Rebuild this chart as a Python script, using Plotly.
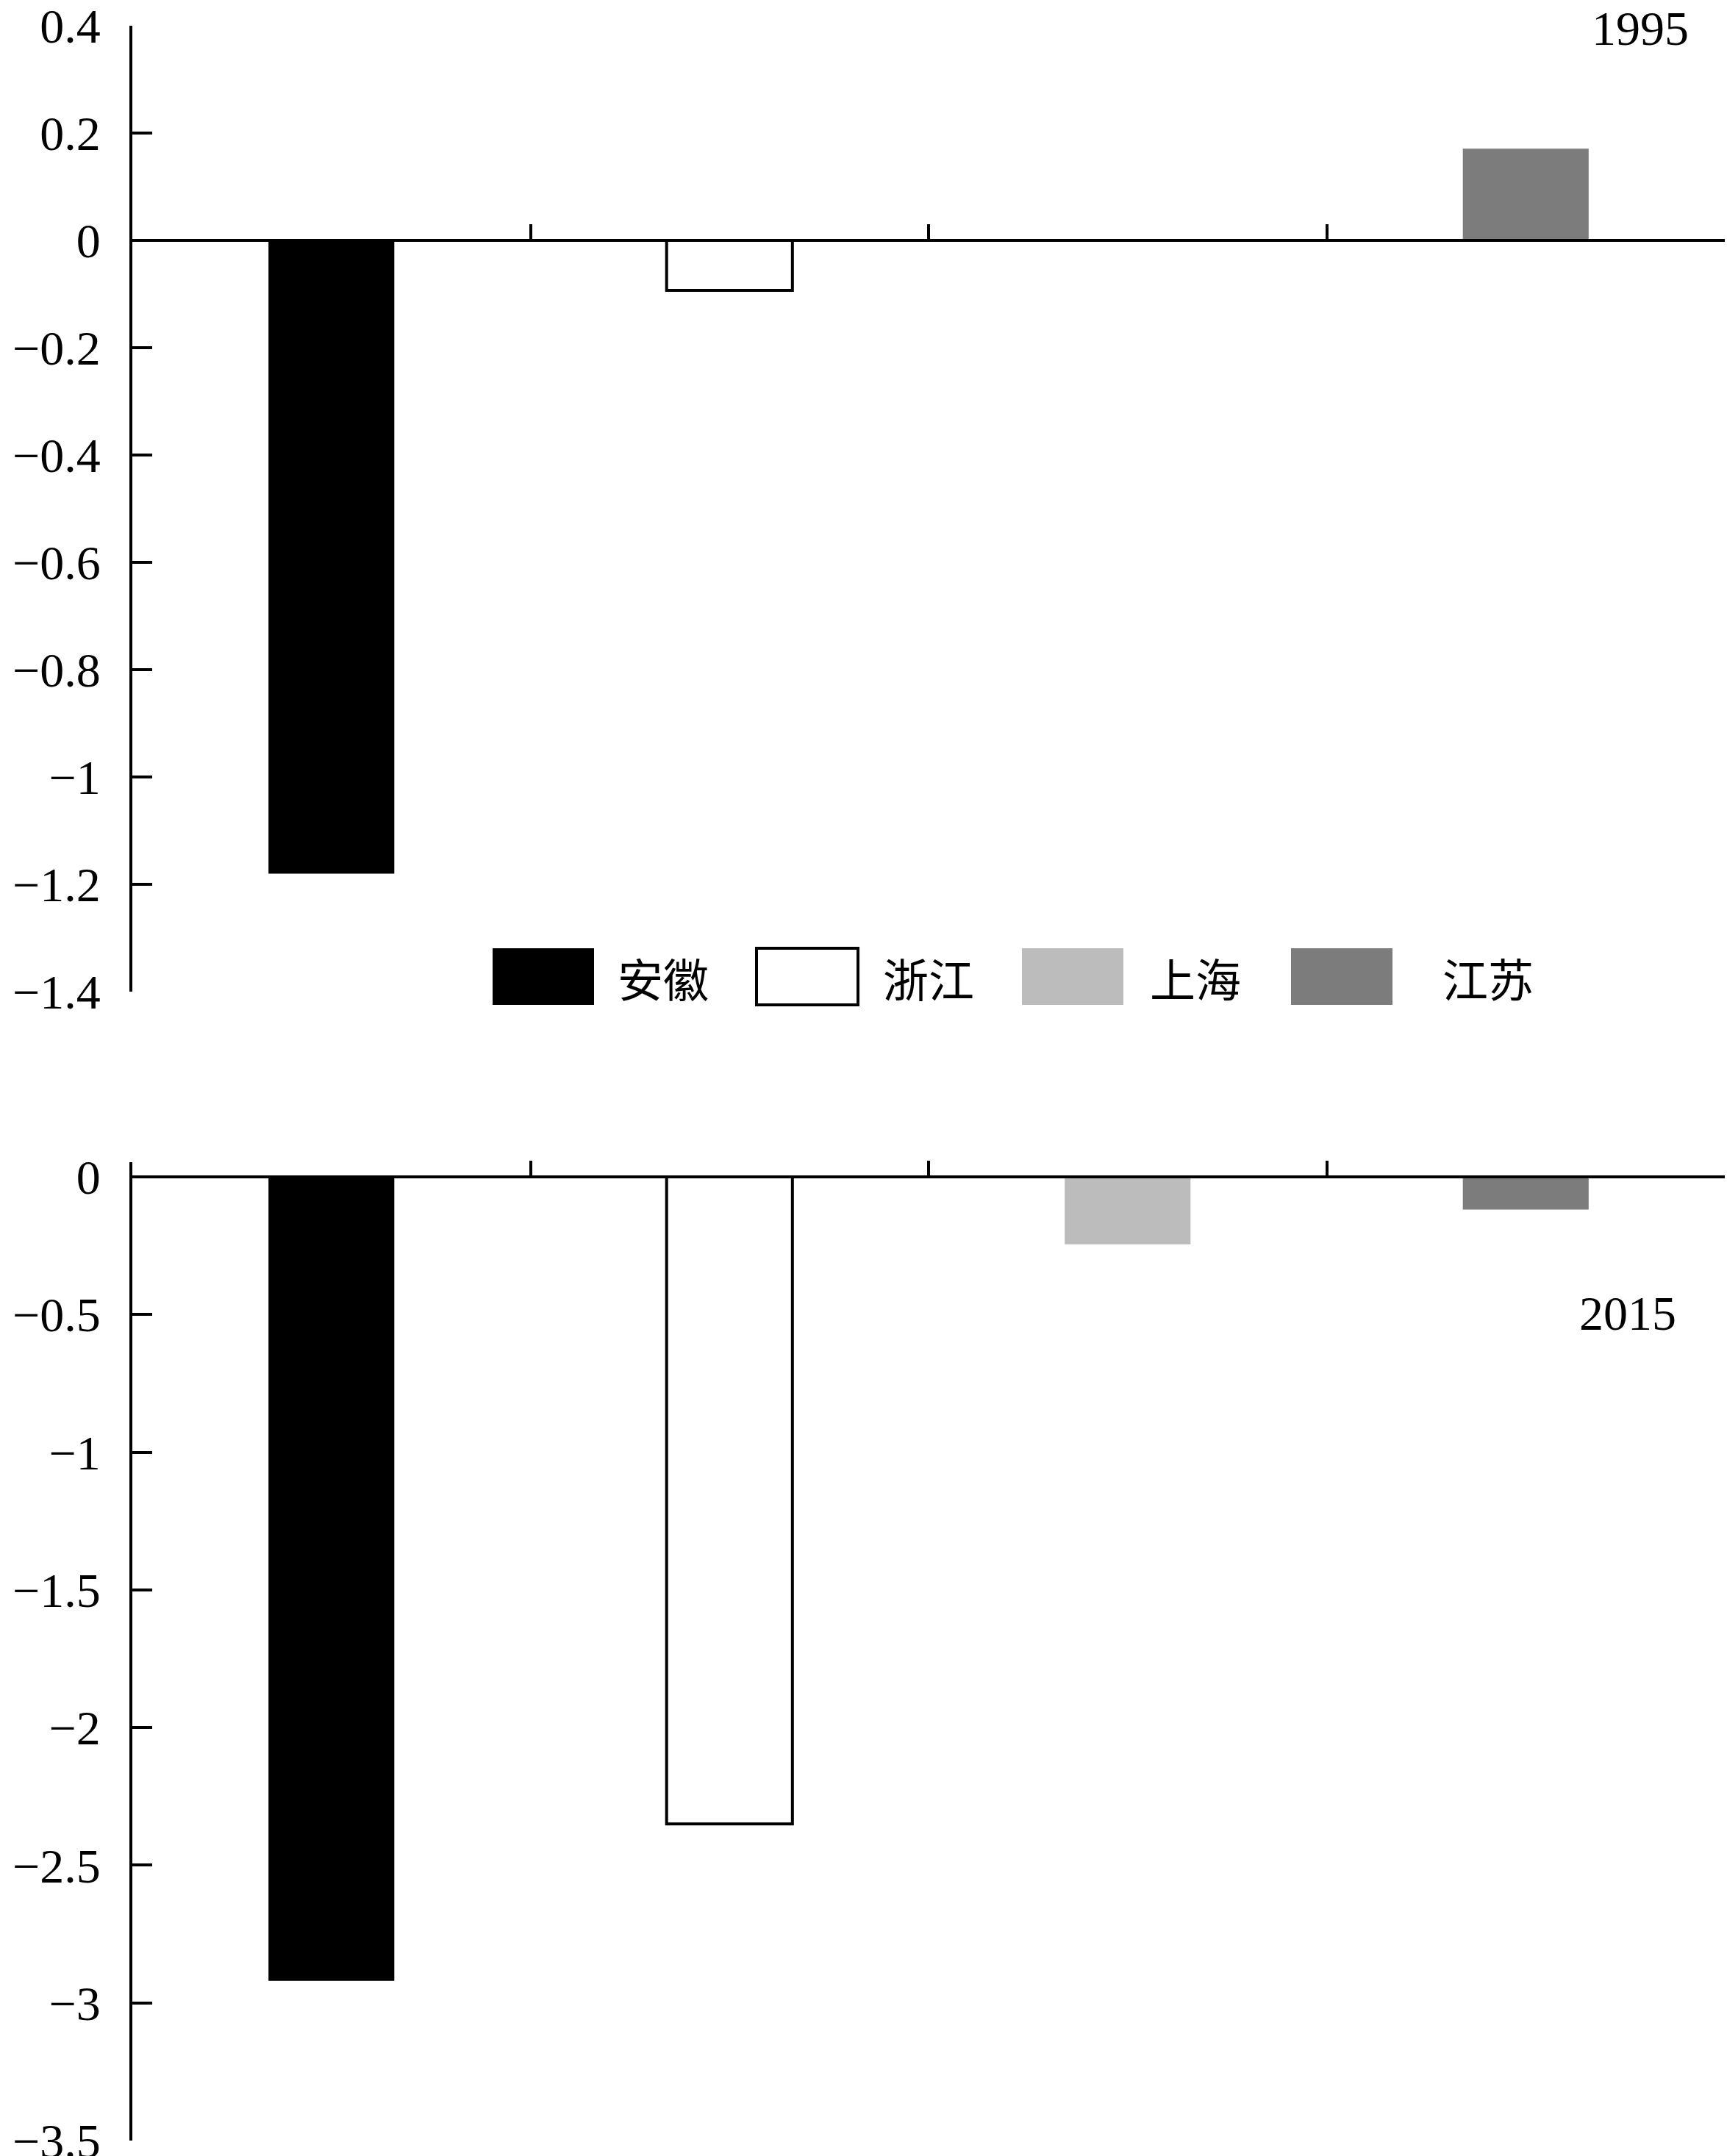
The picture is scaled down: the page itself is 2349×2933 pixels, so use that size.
import plotly.graph_objects as go

# ---- data ----
regions = ["安徽", "浙江", "上海", "江苏"]
values_1995 = [-1.18, -0.093, 0.0, 0.171]
values_2015 = [-2.92, -2.35, -0.245, -0.119]
years = ["1995", "2015"]

yticks_1995 = [0.4, 0.2, 0, -0.2, -0.4, -0.6, -0.8, -1, -1.2, -1.4]
yticklabels_1995 = ["0.4", "0.2", "0", "\u22120.2", "\u22120.4", "\u22120.6", "\u22120.8", "\u22121", "\u22121.2", "\u22121.4"]
yticks_2015 = [0, -0.5, -1, -1.5, -2, -2.5, -3, -3.5]
yticklabels_2015 = ["0", "\u22120.5", "\u22121", "\u22121.5", "\u22122", "\u22122.5", "\u22123", "\u22123.5"]

# ---- styles ----
fills = ["#000000", "#ffffff", "#bcbcbc", "#7c7c7c"]
lines = ["#000000", "#000000", "#bcbcbc", "#7c7c7c"]
linew = [0, 4, 0, 0]

W, H = 2349, 2933
FONT = "'Liberation Serif', 'Times New Roman', 'Noto Sans CJK SC', serif"
CJK = "'Noto Sans CJK SC', 'Liberation Serif', serif"

def py(px):
    return 1 - px / H

def pxx(px):
    return px / W

fig = go.Figure()
for i, r in enumerate(regions):
    for vals, xa, ya in [(values_1995, "x", "y"), (values_2015, "x2", "y2")]:
        fig.add_trace(go.Bar(
            x=[r], y=[vals[i]], name=r, xaxis=xa, yaxis=ya,
            width=0.316, showlegend=False,
            marker=dict(color=fills[i], line=dict(color=lines[i], width=linew[i])),
        ))

x_dom = [pxx(180), pxx(2346)]
axis_common = dict(showgrid=False, zeroline=False, showline=True,
                   linecolor="black", linewidth=4, automargin=False)

fig.update_layout(
    width=W, height=H,
    margin=dict(l=0, r=0, t=0, b=0, pad=0, autoexpand=False),
    paper_bgcolor="white", plot_bgcolor="white",
    barmode="overlay",
    font=dict(family=FONT, size=66, color="black"),
    xaxis=dict(domain=x_dom, type="category", categoryorder="array", categoryarray=regions,
               anchor="free", position=py(327), tickson="boundaries",
               ticks="inside", ticklen=20, tickwidth=4, tickcolor="black",
               showticklabels=False, **axis_common),
    yaxis=dict(domain=[py(1349), py(35)], range=[-1.4, 0.4], anchor="x",
               tickvals=yticks_1995, ticktext=yticklabels_1995,
               ticks="inside", ticklen=27, tickwidth=4, tickcolor="black",
               ticklabelstandoff=26, ticklabeloverflow="allow",
               tickfont=dict(family=FONT, size=66, color="black"), **axis_common),
    xaxis2=dict(domain=x_dom, type="category", categoryorder="array", categoryarray=regions,
                anchor="free", position=py(1601), tickson="boundaries",
                ticks="inside", ticklen=20, tickwidth=4, tickcolor="black",
                showticklabels=False, **axis_common),
    yaxis2=dict(domain=[py(2912), py(1581)], range=[-3.5, 0.0534], anchor="x2",
                tickvals=yticks_2015, ticktext=yticklabels_2015,
                ticks="inside", ticklen=27, tickwidth=4, tickcolor="black",
                ticklabelstandoff=26, ticklabeloverflow="allow",
                tickfont=dict(family=FONT, size=66, color="black"), **axis_common),
)

# year labels
fig.add_annotation(text=years[0], xref="paper", yref="paper", x=pxx(2299), y=py(38),
                   xanchor="right", yanchor="middle", showarrow=False,
                   font=dict(family=FONT, size=66, color="black"))
fig.add_annotation(text=years[1], xref="paper", yref="paper", x=pxx(2282), y=py(1786),
                   xanchor="right", yanchor="middle", showarrow=False,
                   font=dict(family=FONT, size=66, color="black"))

# legend (drawn)
sw_left = [670, 1029, 1390, 1756]
txt_left = [838, 1199, 1562, 1960]
for i, r in enumerate(regions):
    fig.add_shape(type="rect", xref="paper", yref="paper",
                  x0=pxx(sw_left[i]), x1=pxx(sw_left[i] + 138),
                  y0=py(1367), y1=py(1290),
                  fillcolor=fills[i],
                  line=dict(color=lines[i], width=linew[i]))
    fig.add_annotation(text=r, xref="paper", yref="paper", x=pxx(txt_left[i]), y=py(1330),
                       xanchor="left", yanchor="middle", showarrow=False,
                       font=dict(family=CJK, size=62, color="black"))

fig.write_html("out.html", config={"displayModeBar": False},
               post_script="document.body.style.margin='0';document.body.style.overflow='hidden';")
